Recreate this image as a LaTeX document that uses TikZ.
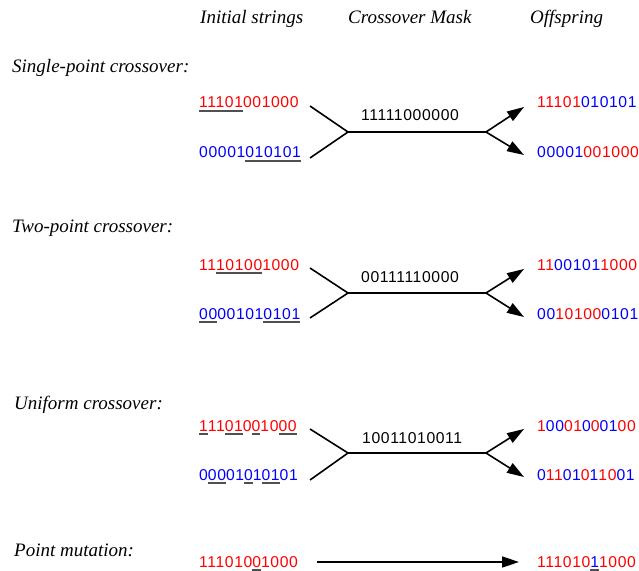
\documentclass[tikz,border=0pt]{standalone}
\usepackage{fontspec}
\setmainfont{Liberation Serif}
\newfontfamily\bitfont[LetterSpace=4]{Liberation Sans}
\usetikzlibrary{arrows.meta}
\definecolor{pred}{RGB}{255,0,0}
\definecolor{pblue}{RGB}{0,0,255}
\definecolor{ulgray}{RGB}{80,80,80}
% underline a run of bits with a grey rule
\newsavebox\ulbox
\newcommand\ulbits[1]{\sbox\ulbox{#1}\rlap{\color{ulgray}\rule[-3.6bp]{\wd\ulbox}{1.3bp}}\usebox\ulbox}
\newcommand\redbits[1]{\textcolor{pred}{#1}}
\newcommand\bluebits[1]{\textcolor{pblue}{#1}}
\tikzset{
  bits/.style={anchor=base west, inner sep=0pt, font=\bitfont\fontsize{15.7bp}{18bp}\selectfont},
  caption/.style={anchor=base west, inner sep=0pt, font=\fontsize{19bp}{22bp}\selectfont\itshape},
  link/.style={line width=1.6bp, black},
  tolink/.style={link, -{Triangle[length=17bp,width=11bp]}},
}
\begin{document}
\begin{tikzpicture}[x=1bp,y=-1bp]
\useasboundingbox (0,0) rectangle (639,571);
% column heads
\node[caption] (hInit) at (200,24) {Initial strings};
\node[caption] (hMask) at (348,24) {Crossover Mask};
\node[caption] (hOff)  at (530,24) {Offspring};

% single-point crossover
\node[caption] (lSingle) at (12,73) {Single-point crossover:};
\node[bits] (sA) at (199,108) {\redbits{\ulbits{11101}001000}};
\node[bits] (sB) at (199,158) {\bluebits{00001\ulbits{010101}}};
\node[bits] (sM) at (361,121) {11111000000};
\node[bits] (sC) at (537,108) {\redbits{11101}\bluebits{010101}};
\node[bits] (sD) at (537,158) {\bluebits{00001}\redbits{001000}};
\coordinate (sAe) at (310,106);
\coordinate (sBe) at (310,158);
\coordinate (sJ)  at (348,132);
\coordinate (sS)  at (486,132);
\coordinate (sCe) at (524,107);
\coordinate (sDe) at (524,155);
\draw[link] (sAe) -- (sJ) -- (sBe);
\draw[link] (sJ) -- (sS);
\draw[tolink] (sS) -- (sCe);
\draw[tolink] (sS) -- (sDe);

% two-point crossover
\node[caption] (lTwo) at (12,232) {Two-point crossover:};
\node[bits] (tA) at (199,270) {\redbits{11\ulbits{10100}1000}};
\node[bits] (tB) at (199,319) {\bluebits{\ulbits{00}00101\ulbits{0101}}};
\node[bits] (tM) at (361,282) {00111110000};
\node[bits] (tC) at (537,270) {\redbits{11}\bluebits{00101}\redbits{1000}};
\node[bits] (tD) at (537,319) {\bluebits{00}\redbits{10100}\bluebits{0101}};
\coordinate (tAe) at (310,268);
\coordinate (tBe) at (310,318);
\coordinate (tJ)  at (348,293);
\coordinate (tS)  at (486,293);
\coordinate (tCe) at (524,269);
\coordinate (tDe) at (524,317);
\draw[link] (tAe) -- (tJ) -- (tBe);
\draw[link] (tJ) -- (tS);
\draw[tolink] (tS) -- (tCe);
\draw[tolink] (tS) -- (tDe);

% uniform crossover
\node[caption] (lUni) at (14,409) {Uniform crossover:};
\node[bits] (uA) at (199,431) {\redbits{\ulbits{1}11\ulbits{01}0\ulbits{0}10\ulbits{00}}};
\node[bits] (uB) at (199,480) {\bluebits{0\ulbits{00}01\ulbits{0}1\ulbits{01}01}};
\node[bits] (uM) at (362,443) {10011010011};
\node[bits] (uC) at (537,431) {\redbits{1}\bluebits{00}\redbits{01}\bluebits{0}\redbits{0}\bluebits{01}\redbits{00}};
\node[bits] (uD) at (537,480) {\bluebits{0}\redbits{11}\bluebits{01}\redbits{0}\bluebits{1}\redbits{10}\bluebits{01}};
\coordinate (uAe) at (310,429);
\coordinate (uBe) at (310,480);
\coordinate (uJ)  at (348,453);
\coordinate (uS)  at (486,453);
\coordinate (uCe) at (524,429);
\coordinate (uDe) at (524,477);
\draw[link] (uAe) -- (uJ) -- (uBe);
\draw[link] (uJ) -- (uS);
\draw[tolink] (uS) -- (uCe);
\draw[tolink] (uS) -- (uDe);

% point mutation
\node[caption] (lMut) at (14,556) {Point mutation:};
\node[bits] (mA) at (199,567) {\redbits{111010\ulbits{0}1000}};
\node[bits] (mB) at (537,567) {\redbits{111010}\bluebits{\ulbits{1}}\redbits{1000}};
\coordinate (mAe) at (317,562);
\coordinate (mBe) at (519,562);
\draw[tolink] (mAe) -- (mBe);
\end{tikzpicture}
\end{document}
